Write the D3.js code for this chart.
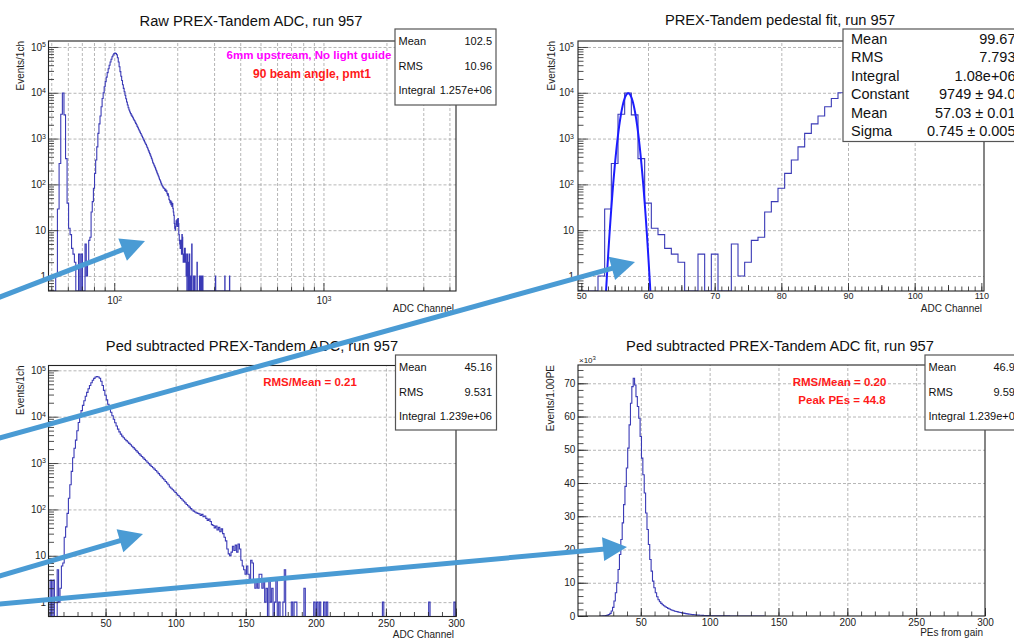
<!DOCTYPE html>
<html>
<head>
<meta charset="utf-8">
<title>PREX-Tandem ADC, run 957</title>
<script src="https://cdn.jsdelivr.net/npm/d3@7/dist/d3.min.js"></script>
<style>
  body { margin: 0; background: #fff; }
  #chart { display: block; font-family: "Liberation Sans", Arial, Helvetica, sans-serif; }
  .grid line { stroke: #a3a3a3; stroke-width: 0.8; stroke-dasharray: 3 2; }
  .grid path, .axis path.domain { display: none; }
  .axis line { stroke: #222; stroke-width: 0.8; }
  .axis text { font-family: "Liberation Sans", Arial, sans-serif; fill: #222; }
  .frame { fill: none; stroke: #222; stroke-width: 1.1; }
  .hist { fill: none; stroke: #3a3ab6; stroke-width: 1.1; }
  .fit { fill: none; stroke: #1c1cff; stroke-width: 2; }
  .title { font-size: 14.7px; fill: #111; text-anchor: middle; }
  .axis-title { font-size: 10px; fill: #222; text-anchor: end; }
  .stats rect { fill: #fff; stroke: #555; stroke-width: 1.2; }
  .stats text { fill: #111; }
  .note { font-weight: bold; text-anchor: middle; }
  .arrow { stroke: #4a9bd4; fill: none; stroke-width: 5; }
  .arrow-head { fill: #4a9bd4; }
</style>
</head>
<body>
<svg id="chart" width="1014" height="642"></svg>
<script>
// raw ADC counts per channel (1 ch bins), first entry is channel 50
const rawFirstChannel = 50;
const rawCounts = [
  0, 0, 0, 1, 29, 285, 3400, 9900, 3300, 365,
  39, 11, 8, 4, 3, 2, 0, 0, 3, 0,
  3, 0, 0, 5, 1, 2, 6, 7, 25, 42,
  82, 174, 340, 660, 1300, 2090, 3120, 4960, 7500, 10000,
  13500, 17500, 22000, 27500, 33500, 40000, 47000, 54000, 61000, 67000,
  71500, 73500, 72000, 67500, 58000, 47000, 37000, 29000, 23000, 18500,
  15000, 12500, 10500, 8800, 7400, 6300, 5400, 4700, 4200, 3800,
  3500, 3250, 3050, 2850, 2650, 2480, 2300, 2150, 2000, 1850,
  1720, 1600, 1480, 1380, 1290, 1200, 1120, 1040, 970, 900,
  840, 790, 740, 690, 640, 590, 545, 505, 470, 435,
  400, 370, 340, 305, 285, 265, 250, 232, 215, 200,
  185, 172, 160, 150, 138, 128, 120, 112, 104, 97,
  92, 88, 84, 82, 80, 74, 78, 70, 72, 64,
  58, 62, 55, 47, 45, 40, 44, 36, 41, 33,
  38, 30, 25, 21, 14, 11, 10, 12, 16, 13,
  17, 12, 18, 14, 8, 6, 5, 4, 6, 4,
  3, 8, 7, 3, 2, 3, 2, 4, 4, 2,
  3, 1, 2, 0, 3, 1, 2, 0, 1, 3,
  0, 1, 0, 0, 1, 5, 0, 0, 0, 0,
  1, 0, 1, 1, 0, 0, 0, 0, 0, 2,
  0, 0, 0, 0, 0, 0, 1, 0, 1, 0,
  1, 0, 0, 1, 0, 1, 0, 0, 0, 0,
  0, 0, 0, 0, 0, 0, 0, 0, 0, 0,
  0, 0, 0, 0, 0, 0, 0, 0, 0, 0,
  0, 0, 0, 0, 0, 0, 0, 0, 0, 0,
  0, 0, 0, 0, 0, 1, 0, 0, 0, 0,
  0, 0, 0, 0, 0, 0, 0, 0, 0, 0,
  0, 0, 0, 0, 0, 0, 0, 0, 0, 0,
  0, 0, 0, 0, 0, 0, 0, 0, 1, 0,
  0, 0, 0, 0, 0, 0, 0, 0, 0, 0,
  0, 0, 0, 0, 0, 0, 1, 0
];
const pedestalChannel = 57;

// gaussian fit of the pedestal (values from the stats box)
const fitConstant = 9749;
const fitMean = 57.03;
const fitSigma = 0.745;
const fitRange = [53.4, 60.6];

// photo-electron spectrum, counts in units of 10^3 per 1 PE bin, first entry is 21 PE
const peFirstBin = 21;
const peCounts = [
  0.01, 0.02, 0.03, 0.06, 0.12, 0.25, 0.45, 0.8, 1.5,
  2.6, 4.5, 7, 10, 14, 18.5, 23, 28, 33.5, 39,
  44.5, 50.5, 57.5, 64, 69, 71.5, 69.5, 66, 63, 59.5,
  54, 47.5, 42.5, 37, 31, 26, 21.5, 17, 13.5, 10.5,
  8.5, 7, 5.8, 4.9, 4.3, 3.8, 3.4, 3.1, 2.8, 2.55,
  2.3, 2.1, 1.9, 1.75, 1.6, 1.45, 1.35, 1.25, 1.15, 1.05,
  0.95, 0.85, 0.78, 0.7, 0.63, 0.57, 0.51, 0.46, 0.41, 0.37,
  0.33, 0.3, 0.27, 0.24, 0.21, 0.19, 0.17, 0.15, 0.13, 0.12,
  0.1, 0.09, 0.08, 0.07, 0.065, 0.06, 0.055, 0.05, 0.045, 0.04,
  0.036, 0.033, 0.03, 0.027, 0.025, 0.022, 0.02, 0.018, 0.017, 0.015,
  0.014, 0.013, 0.012, 0.011, 0.01, 0.009, 0.008, 0.008, 0.007, 0.006,
  0.006, 0.005, 0.005, 0.004, 0.004, 0.003, 0.003, 0.003, 0.002, 0.002
];

// stats boxes
const rawStats = [['Mean', '102.5'], ['RMS', '10.96'], ['Integral', '1.257e+06']];
const pedStats = [['Mean', '99.67'], ['RMS', '7.793'], ['Integral', '1.08e+06'],
  ['Constant', '9749 \u00b1 94.0'], ['Mean', '57.03 \u00b1 0.01'], ['Sigma', '0.745 \u00b1 0.005']];
const subStats = [['Mean', '45.16'], ['RMS', '9.531'], ['Integral', '1.239e+06']];
const peStats = [['Mean', '46.95'], ['RMS', '9.595'], ['Integral', '1.239e+06']];

// bins as {lo, hi, v}
const rawBins = rawCounts.map((v, i) => ({ lo: rawFirstChannel + i - 0.5, hi: rawFirstChannel + i + 0.5, v }));
const subBins = rawCounts.map((v, i) => ({ lo: rawFirstChannel + i - pedestalChannel - 0.5, hi: rawFirstChannel + i - pedestalChannel + 0.5, v }));
const peBins = peCounts.map((v, i) => ({ lo: peFirstBin + i - 0.5, hi: peFirstBin + i + 0.5, v }));

const svg = d3.select('#chart');

const isDecade = v => Math.abs(Math.log10(v) - Math.round(Math.log10(v))) < 1e-9;
const logLabel = v => {
  const e = Math.round(Math.log10(v));
  if (e === 0) return ['1', null];
  if (e === 1) return ['10', null];
  return ['10', String(e)];
};
const plainLabel = v => [String(v), null];

function writeSup(sel, base, sup, size) {
  sel.text(base);
  if (sup !== null) {
    sel.append('tspan').attr('dy', '-0.5em').style('font-size', size).text(sup);
  }
}

class RootPad {
  constructor(_config, _bins) {
    this.config = _config;
    this.bins = _bins;
  }

  initVis() {
    let vis = this;
    const c = vis.config;
    vis.width = c.frame.right - c.frame.left;
    vis.height = c.frame.bottom - c.frame.top;

    vis.x = (c.xType === 'log' ? d3.scaleLog() : d3.scaleLinear())
      .domain(c.xDomain).range([0, vis.width]);
    vis.y = (c.yType === 'log' ? d3.scaleLog() : d3.scaleLinear())
      .domain(c.yDomain).range([vis.height, 0]);

    vis.g = svg.append('g')
      .attr('transform', `translate(${c.frame.left},${c.frame.top})`);

    vis.g.append('clipPath').attr('id', `clip-${c.id}`)
      .append('rect').attr('width', vis.width).attr('height', vis.height);

    // title
    svg.append('text').attr('class', 'title')
      .attr('x', c.titleX).attr('y', c.titleY).text(c.title);

    vis.renderVis();
  }

  renderVis() {
    let vis = this;
    const c = vis.config;

    // dashed grid
    vis.g.append('g').attr('class', 'grid')
      .attr('transform', `translate(0,${vis.height})`)
      .call(d3.axisBottom(vis.x).tickValues(c.xGrid).tickSize(-vis.height).tickFormat(''));
    vis.g.append('g').attr('class', 'grid')
      .call(d3.axisLeft(vis.y).tickValues(c.yGrid).tickSize(-vis.width).tickFormat(''));

    // histogram as a step outline
    const yMin = c.yDomain[0];
    const pts = [];
    vis.bins.forEach((b, i) => {
      const v = Math.max(b.v, yMin);
      if (i === 0) pts.push([b.lo, yMin]);
      pts.push([b.lo, v], [b.hi, v]);
    });
    pts.push([vis.bins[vis.bins.length - 1].hi, yMin]);

    const line = d3.line()
      .x(d => vis.x(d[0]))
      .y(d => vis.y(d[1]));

    const plot = vis.g.append('g').attr('clip-path', `url(#clip-${c.id})`);
    plot.append('path').attr('class', 'hist').datum(pts).attr('d', line);

    if (c.fit) {
      const f = c.fit;
      const curve = d3.range(f.range[0], f.range[1] + 1e-9, 0.02)
        .map(xv => [xv, Math.max(f.constant * Math.exp(-0.5 * ((xv - f.mean) / f.sigma) ** 2), yMin * 0.5)]);
      plot.append('path').attr('class', 'fit').datum(curve).attr('d', line);
    }

    // x axis, ticks inside the frame
    const xg = vis.g.append('g').attr('class', 'axis').attr('transform', `translate(0,${vis.height})`);
    xg.append('g').call(d3.axisBottom(vis.x).tickValues(c.xMinor).tickSize(-4.5).tickFormat(''));
    if (c.xMid) {
      xg.append('g').call(d3.axisBottom(vis.x).tickValues(c.xMid).tickSize(-6).tickFormat(''));
    }
    const xMajorG = xg.append('g')
      .call(d3.axisBottom(vis.x).tickValues(c.xMajor).tickSize(-8).tickPadding(c.xPad).tickFormat(''));
    xMajorG.selectAll('text').style('font-size', c.xFont + 'px')
      .each(function(d) { const [b, s] = c.xLabel(d); writeSup(d3.select(this), b, s, '7px'); });

    // y axis
    const yg = vis.g.append('g').attr('class', 'axis');
    yg.append('g').call(d3.axisLeft(vis.y).tickValues(c.yMinor).tickSize(-5.5).tickFormat(''));
    const yMajorG = yg.append('g')
      .call(d3.axisLeft(vis.y).tickValues(c.yMajor).tickSize(-10).tickPadding(c.yPad).tickFormat(''));
    yMajorG.selectAll('text').style('font-size', '10px')
      .each(function(d) { const [b, s] = c.yLabel(d); writeSup(d3.select(this), b, s, '7px'); });

    // frame
    vis.g.append('rect').attr('class', 'frame')
      .attr('width', vis.width).attr('height', vis.height);

    // axis titles
    svg.append('text').attr('class', 'axis-title')
      .attr('x', c.frame.right - 2).attr('y', c.xTitleY).text(c.xTitle);
    svg.append('text').attr('class', 'axis-title')
      .attr('transform', `translate(${c.yTitleX},${c.frame.top}) rotate(-90)`)
      .text(c.yTitle);

    if (c.multiplier) {
      const m = svg.append('text').attr('x', c.frame.left + 1).attr('y', c.frame.top - 2)
        .style('font-size', '8px').attr('fill', '#222');
      writeSup(m, '\u00d710', c.multiplier, '6px');
    }

    vis.drawStats();
  }

  drawStats() {
    let vis = this;
    const s = vis.config.stats;
    const g = svg.append('g').attr('class', 'stats');
    g.append('rect').attr('x', s.x).attr('y', s.y).attr('width', s.w).attr('height', s.h);
    g.selectAll('text.lab').data(s.rows).join('text').attr('class', 'lab')
      .attr('x', s.x + s.padL).attr('y', (d, i) => s.baselines[i])
      .style('font-size', s.font + 'px').text(d => d[0]);
    g.selectAll('text.val').data(s.rows).join('text').attr('class', 'val')
      .attr('x', s.valueRight).attr('y', (d, i) => s.baselines[i])
      .attr('text-anchor', 'end')
      .style('font-size', s.font + 'px').text(d => d[1]);
  }
}

// tick sets
const logY1 = d3.scaleLog().domain([0.47, 1.35e5]).ticks();
const logY3 = d3.scaleLog().domain([0.49, 1.27e5]).ticks();
const logX1 = d3.scaleLog().domain([48.5, 4300]).ticks();

const pads = [
  new RootPad({
    id: 'raw', title: 'Raw PREX-Tandem ADC, run 957', titleX: 251, titleY: 25.5,
    frame: { left: 48.5, right: 456, top: 41, bottom: 291 },
    xType: 'log', xDomain: [48.5, 4300], yType: 'log', yDomain: [0.47, 1.35e5],
    xGrid: logX1, xMinor: logX1.filter(v => !isDecade(v)), xMajor: logX1.filter(isDecade),
    xLabel: logLabel, xPad: 6, xFont: 10,
    yGrid: logY1.filter(isDecade), yMinor: logY1.filter(v => !isDecade(v)), yMajor: logY1.filter(isDecade),
    yLabel: logLabel, yPad: 2.5,
    xTitle: 'ADC Channel', xTitleY: 311.5, yTitle: 'Events/1ch', yTitleX: 24,
    stats: { x: 395, y: 29, w: 101, h: 76, font: 11, padL: 3.5, valueRight: 492,
      baselines: [45, 70, 94], rows: rawStats }
  }, rawBins),
  new RootPad({
    id: 'ped', title: 'PREX-Tandem pedestal fit, run 957', titleX: 780, titleY: 25,
    frame: { left: 578, right: 984, top: 41, bottom: 291 },
    xType: 'lin', xDomain: [49.5, 110.4], yType: 'log', yDomain: [0.47, 1.35e5],
    xGrid: d3.range(60, 101, 10), xMinor: d3.range(50, 111, 1), xMid: d3.range(55, 110, 10),
    xMajor: d3.range(50, 111, 10), xLabel: plainLabel, xPad: 1.5, xFont: 9,
    yGrid: logY1.filter(isDecade), yMinor: logY1.filter(v => !isDecade(v)), yMajor: logY1.filter(isDecade),
    yLabel: logLabel, yPad: 4,
    xTitle: 'ADC Channel', xTitleY: 311.5, yTitle: 'Events/1ch', yTitleX: 554.5,
    fit: { constant: fitConstant, mean: fitMean, sigma: fitSigma, range: fitRange },
    stats: { x: 843, y: 29, w: 200, h: 112.5, font: 14.5, padL: 8, valueRight: 1015.5,
      baselines: [43.5, 62, 80.5, 99, 117.5, 136], rows: pedStats }
  }, rawBins),
  new RootPad({
    id: 'sub', title: 'Ped subtracted PREX-Tandem ADC, run 957', titleX: 252, titleY: 351,
    frame: { left: 48.5, right: 456, top: 365.5, bottom: 616.5 },
    xType: 'lin', xDomain: [9.3, 300], yType: 'log', yDomain: [0.49, 1.27e5],
    xGrid: d3.range(50, 251, 50), xMinor: d3.range(10, 301, 10), xMajor: d3.range(50, 301, 50),
    xLabel: plainLabel, xPad: 3, xFont: 10,
    yGrid: logY3.filter(isDecade), yMinor: logY3.filter(v => !isDecade(v)), yMajor: logY3.filter(isDecade),
    yLabel: logLabel, yPad: 2.5,
    xTitle: 'ADC Channel', xTitleY: 637.5, yTitle: 'Events/1ch', yTitleX: 24,
    stats: { x: 395.5, y: 355, w: 101, h: 75, font: 11, padL: 3.5, valueRight: 492,
      baselines: [371, 396, 420], rows: subStats }
  }, subBins),
  new RootPad({
    id: 'pe', title: 'Ped subtracted PREX-Tandem ADC fit, run 957', titleX: 780, titleY: 351,
    frame: { left: 578, right: 985, top: 365, bottom: 616 },
    xType: 'lin', xDomain: [4.4, 300], yType: 'lin', yDomain: [0, 75.5],
    xGrid: d3.range(50, 251, 50), xMinor: d3.range(10, 301, 10), xMajor: d3.range(50, 301, 50),
    xLabel: plainLabel, xPad: 3, xFont: 10,
    yGrid: d3.range(10, 71, 10), yMinor: d3.range(0, 76, 2), yMajor: d3.range(0, 71, 10),
    yLabel: plainLabel, yPad: 2.7, multiplier: '3',
    xTitle: 'PEs from gain', xTitleY: 636, yTitle: 'Events/1.00PE', yTitleX: 554,
    stats: { x: 925, y: 355, w: 101, h: 75, font: 11, padL: 3.5, valueRight: 1021,
      baselines: [371, 396, 420], rows: peStats }
  }, peBins)
];
pads.forEach(p => p.initVis());

// coloured notes written on the pads
const notes = [
  { text: '6mm upstream, No light guide', x: 309, y: 59, color: '#ff00ff', size: 11.5 },
  { text: '90 beam angle, pmt1', x: 312, y: 78, color: '#ff1a1a', size: 12 },
  { text: 'RMS/Mean = 0.21', x: 310, y: 386, color: '#ff1a1a', size: 11.5 },
  { text: 'RMS/Mean = 0.20', x: 839.5, y: 386, color: '#ff1a1a', size: 11.5 },
  { text: 'Peak PEs = 44.8', x: 842, y: 404, color: '#ff1a1a', size: 11.5 }
];
svg.selectAll('text.note').data(notes).join('text').attr('class', 'note')
  .attr('x', d => d.x).attr('y', d => d.y).attr('fill', d => d.color)
  .style('font-size', d => d.size + 'px').text(d => d.text);

// slide arrows drawn over the canvases (tail, tip in page pixels)
const arrows = [
  { from: [-4, 298.5], to: [145, 241] },
  { from: [-4, 439], to: [635, 262] },
  { from: [-4, 577], to: [143, 534] },
  { from: [-4, 604.4], to: [627, 547] }
];
const headLen = 24, headHalf = 12;
arrows.forEach(a => {
  const dx = a.to[0] - a.from[0], dy = a.to[1] - a.from[1];
  const len = Math.hypot(dx, dy);
  const ux = dx / len, uy = dy / len;
  const bx = a.to[0] - ux * headLen, by = a.to[1] - uy * headLen;
  svg.append('line').attr('class', 'arrow')
    .attr('x1', a.from[0]).attr('y1', a.from[1]).attr('x2', bx + ux * 2).attr('y2', by + uy * 2);
  svg.append('polygon').attr('class', 'arrow-head')
    .attr('points', [[a.to[0], a.to[1]], [bx - uy * headHalf, by + ux * headHalf], [bx + uy * headHalf, by - ux * headHalf]]
      .map(p => p.join(',')).join(' '));
});
</script>
</body>
</html>
